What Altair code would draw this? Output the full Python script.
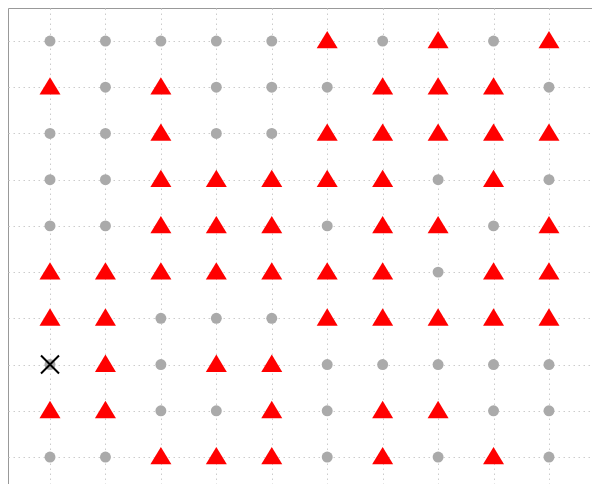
import pandas as pd
import altair as alt

COLS = list(range(1, 11))
ROW_VALUES = list(range(10, 0, -1))  # top row first

# o = grey dot, ^ = red triangle; one string per row, top to bottom
ROWS = [
    "o o o o o ^ o ^ o ^",
    "^ o ^ o o o ^ ^ ^ o",
    "o o ^ o o ^ ^ ^ ^ ^",
    "o o ^ ^ ^ ^ ^ o ^ o",
    "o o ^ ^ ^ o ^ ^ o ^",
    "^ ^ ^ ^ ^ ^ ^ o ^ ^",
    "^ ^ o o o ^ ^ ^ ^ ^",
    "o ^ o ^ ^ o o o o o",
    "^ ^ o o ^ o ^ ^ o o",
    "o o ^ ^ ^ o ^ o ^ o",
]

CROSS_COL = [1]
CROSS_ROW = [3]

records = []
for row_val, row in zip(ROW_VALUES, ROWS):
    for col, code in zip(COLS, row.split()):
        records.append({"col": col, "row": row_val, "kind": code})
df = pd.DataFrame(records)
dots = df[df["kind"] == "o"]
tris = df[df["kind"] == "^"]
cross = pd.DataFrame({"col": CROSS_COL, "row": CROSS_ROW})

axis = alt.Axis(
    values=COLS,
    labels=False,
    ticks=False,
    domain=False,
    grid=True,
    gridColor="#cccccc",
    gridDash=[1.5, 3.5],
    gridWidth=1,
    title=None,
)
x = alt.X("col:Q", scale=alt.Scale(domain=[0.2424, 10.776], nice=False, zero=False), axis=axis)
y = alt.Y("row:Q", scale=alt.Scale(domain=[0.416, 10.714], nice=False, zero=False), axis=axis)

dot_layer = (
    alt.Chart(dots)
    .mark_point(shape="circle", filled=True, size=120, color="#aaaaaa", opacity=1)
    .encode(x=x, y=y)
)

tri_layer = (
    alt.Chart(tris)
    .mark_point(
        shape="M-1,0.7L0,-0.95L1,0.7Z",
        filled=True,
        size=441,
        color="#ff0000",
        opacity=1,
    )
    .encode(x=x, y=y)
)

cross_layer = (
    alt.Chart(cross)
    .mark_point(
        shape="M-1,-1L1,1M-1,1L1,-1",
        filled=False,
        size=324,
        color="#000000",
        strokeWidth=2,
        opacity=1,
    )
    .encode(x=x, y=y)
)

chart = (
    alt.layer(dot_layer, tri_layer, cross_layer)
    .properties(width=584, height=476, padding=0)
    .configure_view(stroke="#999999", strokeWidth=1)
)

chart.save("out.html", embed_options={"renderer": "svg", "actions": False})
